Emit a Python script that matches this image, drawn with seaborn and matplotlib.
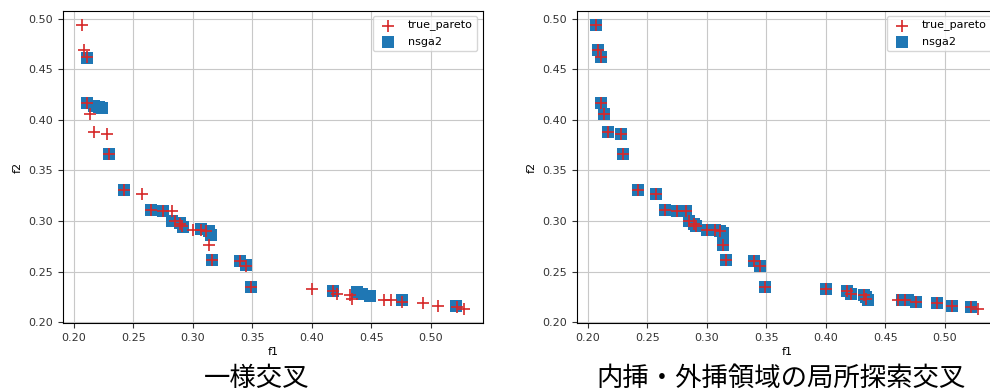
import numpy as np
import pandas as pd
import matplotlib
matplotlib.use("Agg")
import matplotlib.pyplot as plt
import seaborn as sns

# true pareto front (same in both panels)
TRUE_F1 = [0.207, 0.209, 0.211, 0.211, 0.214, 0.217, 0.228, 0.230, 0.242, 0.257,
           0.265, 0.275, 0.283, 0.285, 0.289, 0.291, 0.300, 0.307, 0.311, 0.314,
           0.316, 0.340, 0.345, 0.349, 0.400, 0.418, 0.421, 0.432, 0.434, 0.461,
           0.467, 0.476, 0.494, 0.506, 0.522, 0.528]
TRUE_F2 = [0.494, 0.469, 0.462, 0.417, 0.406, 0.388, 0.386, 0.366, 0.331, 0.327,
           0.311, 0.310, 0.310, 0.300, 0.297, 0.295, 0.291, 0.291, 0.290, 0.276,
           0.262, 0.261, 0.256, 0.235, 0.233, 0.231, 0.228, 0.227, 0.223, 0.222,
           0.222, 0.220, 0.219, 0.216, 0.215, 0.213]

# nsga2 - uniform crossover
UNI_F1 = [0.211, 0.211, 0.217, 0.221, 0.224, 0.230, 0.242, 0.265, 0.275, 0.283,
          0.289, 0.292, 0.307, 0.314, 0.315, 0.316, 0.340, 0.345, 0.349, 0.418,
          0.438, 0.442, 0.449, 0.476, 0.521]
UNI_F2 = [0.461, 0.417, 0.414, 0.413, 0.412, 0.366, 0.331, 0.311, 0.310, 0.300,
          0.298, 0.294, 0.292, 0.290, 0.286, 0.262, 0.261, 0.257, 0.235, 0.231,
          0.230, 0.228, 0.226, 0.222, 0.216]

# nsga2 - local search crossover
LOC_F1 = [0.207, 0.209, 0.211, 0.211, 0.214, 0.217, 0.228, 0.230, 0.242, 0.257,
          0.265, 0.275, 0.283, 0.285, 0.289, 0.291, 0.300, 0.307, 0.311, 0.314,
          0.314, 0.316, 0.340, 0.345, 0.349, 0.400, 0.418, 0.421, 0.432, 0.434,
          0.436, 0.464, 0.469, 0.476, 0.494, 0.506, 0.522]
LOC_F2 = [0.494, 0.469, 0.462, 0.417, 0.406, 0.388, 0.386, 0.366, 0.331, 0.327,
          0.311, 0.310, 0.310, 0.300, 0.297, 0.295, 0.291, 0.291, 0.290, 0.288,
          0.276, 0.262, 0.261, 0.256, 0.235, 0.233, 0.231, 0.228, 0.227, 0.225,
          0.222, 0.222, 0.222, 0.220, 0.219, 0.216, 0.215]

CAPTIONS = ["一様交叉", "内挿・外挿領域の局所探索交叉"]

RED = "#d62728"
BLUE = "#1f77b4"
FS = 8

true_df = pd.DataFrame({"f1": TRUE_F1, "f2": TRUE_F2})
panels = [pd.DataFrame({"f1": UNI_F1, "f2": UNI_F2}),
          pd.DataFrame({"f1": LOC_F1, "f2": LOC_F2})]

fig = plt.figure(figsize=(9.9, 3.91), dpi=100)
lefts = [63 / 990, 577 / 990]
cap_x = [257 / 990, 781 / 990]
for left, cx, nsga, cap in zip(lefts, cap_x, panels, CAPTIONS):
    ax = fig.add_axes([left, 0.173, 420 / 990, 0.80])
    sns.scatterplot(data=true_df, x="f1", y="f2", marker="+", s=80, color=RED,
                    linewidth=1.2, label="true_pareto", zorder=3, ax=ax)
    sns.scatterplot(data=nsga, x="f1", y="f2", marker="s", s=85, color=BLUE,
                    linewidth=0, label="nsga2", zorder=2, ax=ax)
    ax.grid(True, color="#c8c8c8", linewidth=0.8)
    ax.set_axisbelow(True)
    ax.set_xticks(np.arange(0.20, 0.51, 0.05))
    ax.set_yticks(np.arange(0.20, 0.51, 0.05))
    ax.tick_params(labelsize=FS, colors="#333333")
    ax.set_xlabel("f1", fontsize=FS, labelpad=3)
    ax.set_ylabel("f2", fontsize=FS)
    ax.legend(loc="upper right", fontsize=FS)
    fig.text(cx, 0.032, cap, ha="center", va="center", fontsize=19,
             family=["Noto Sans CJK JP", "DejaVu Sans"])

fig.savefig("out.png", dpi=100)
